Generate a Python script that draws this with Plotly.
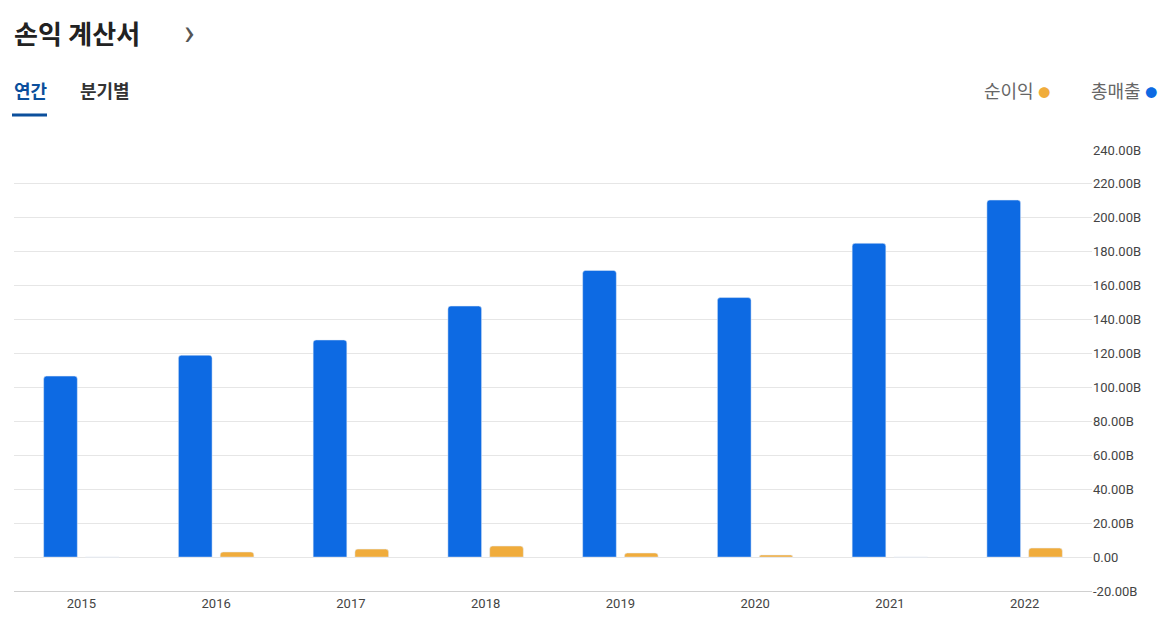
import plotly.graph_objects as go

years = ["2015", "2016", "2017", "2018", "2019", "2020", "2021", "2022"]
revenue = [106.7, 119.0, 128.0, 148.0, 169.0, 153.0, 185.0, 210.5]
net_income = [0.0, 3.0, 4.7, 6.5, 2.4, 1.2, 0.0, 5.3]
tick_vals = [-20, 0, 20, 40, 60, 80, 100, 120, 140, 160, 180, 200, 220, 240]
tick_text = ["-20.00B", "0.00"] + [f"{v:.2f}B" for v in tick_vals[2:]]

BLUE = "#0d6ae3"
ORANGE = "#f0ac3c"
font = "Roboto, Noto Sans CJK KR"

L, R, T, B = 6, 91, 142, 45
PW, PH = 1175 - L - R, 628 - T - B

def px(X):
    return (X - 8 - L) / PW

def py(Y):
    return (628 - B - (Y - 8)) / PH

fig = go.Figure()
fig.add_trace(go.Bar(x=years, y=revenue, name="총매출", marker_color=BLUE,
                     width=0.25, offset=-0.28))
fig.add_trace(go.Bar(x=years, y=net_income, name="순이익", marker_color=ORANGE,
                     width=0.25, offset=0.03))

fig.update_layout(
    width=1175, height=628, plot_bgcolor="white", paper_bgcolor="white",
    margin=dict(l=L, r=R, t=T, b=B),
    showlegend=False, barcornerradius=3,
    font=dict(family=font, color="#333"),
    xaxis=dict(showgrid=False, showline=True, linecolor="#d0d0d0",
               tickfont=dict(size=13, color="#444"), ticks=""),
    yaxis=dict(side="right", range=[-20, 240], tickvals=tick_vals, ticktext=tick_text,
               gridcolor="#e6e6e6", zeroline=False, tickfont=dict(size=13, color="#444")),
)
anns = [
    (12, 35, "<b>손익 계산서</b>", 26, "#222"),
    (182, 33, "›", 36, "#555"),
    (12, 91, "<b>연간</b>", 18, "#0b4f9c"),
    (78, 91, "<b>분기별</b>", 18, "#333"),
    (982, 91, "순이익 <span style='color:#f0ac3c;font-size:12px'>●</span>", 18, "#666"),
    (1089, 91, "총매출 <span style='color:#0d6ae3;font-size:12px'>●</span>", 18, "#666"),
]
for X, Y, text, size, color in anns:
    fig.add_annotation(xref="paper", yref="paper", x=px(X), y=py(Y), text=text,
                       font=dict(family=font, size=size, color=color), showarrow=False,
                       xanchor="left", yanchor="middle")
fig.add_shape(type="line", xref="paper", yref="paper", x0=px(12), x1=px(47),
              y0=py(115), y1=py(115), line=dict(color="#0b4f9c", width=3))
fig.write_html("out.html")
